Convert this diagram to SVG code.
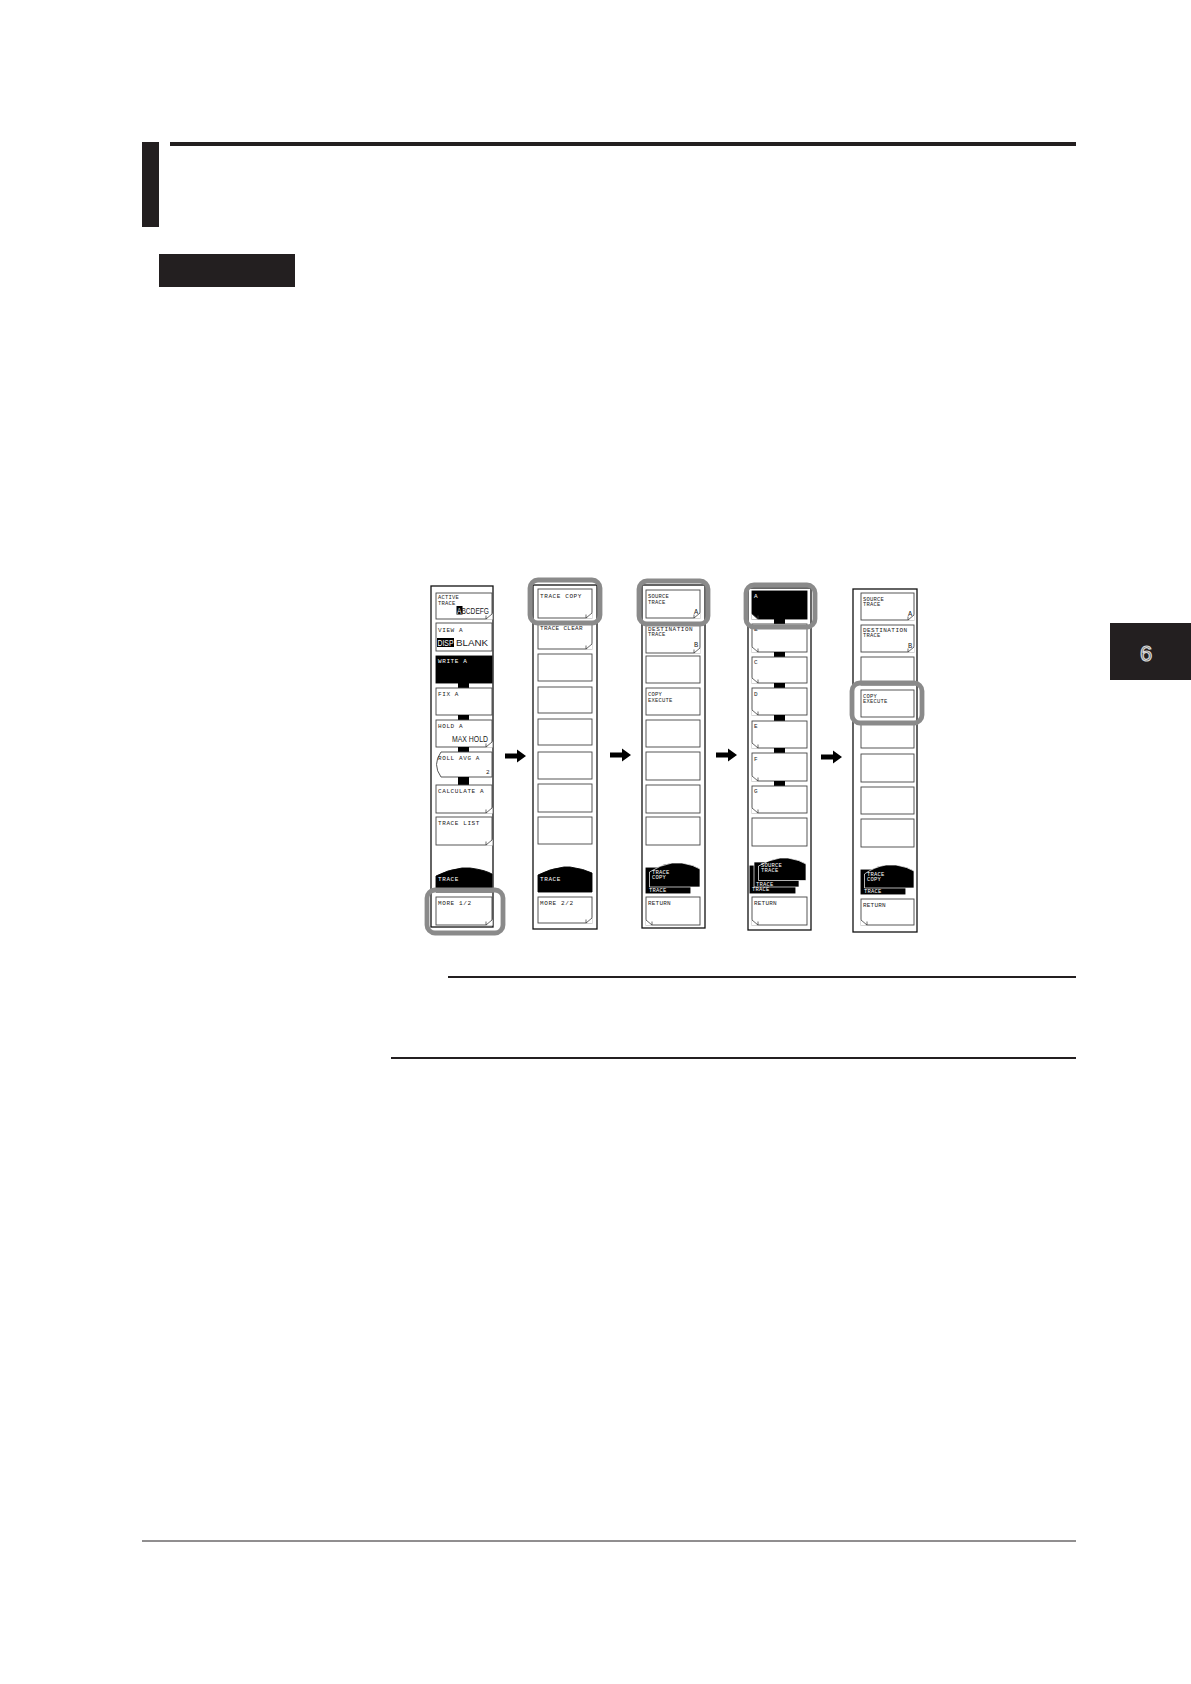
<svg xmlns="http://www.w3.org/2000/svg" xmlns:xlink="http://www.w3.org/1999/xlink" width="1191" height="1684" viewBox="0 0 1191 1684">
<style>
.ob{fill:none;stroke:#111;stroke-width:1.3}
.bt{fill:#fff;stroke:#444;stroke-width:0.9}
.bk{fill:#000;stroke:#000;stroke-width:0.9}
.hl{fill:none;stroke:#8a8a8a;stroke-width:4.8}
.t{font-family:"Liberation Mono","DejaVu Sans Mono",monospace;font-size:6px;fill:#222;letter-spacing:0.6px}
.tw{font-family:"Liberation Mono","DejaVu Sans Mono",monospace;font-size:6px;fill:#fff;letter-spacing:0.6px}
.tb{font-family:"Liberation Sans",Arial,sans-serif;font-size:8.5px;fill:#222}
.cn{fill:#000}
.ar{fill:#000}
.ink{fill:#231f20}
</style>
<defs>
<g id="foldR"><path d="M-6,0.6 L0.6,-5.5 L0.6,0.6 Z" fill="#fff"/><path d="M-6,0 L0,-5 M-6,0 V-3.5" fill="none" stroke="#444" stroke-width="0.8"/></g>
<g id="foldL"><path d="M6,0.6 L-0.6,-5.5 L-0.6,0.6 Z" fill="#fff"/><path d="M6,0 L0,-5 M6,0 V-3.5" fill="none" stroke="#444" stroke-width="0.8"/></g>
<path id="arrow" d="M-11,-2.6 H1 V-6.5 L10,0 L1,6.5 V2.6 H-11 Z"/>
</defs>
<rect width="1191" height="1684" fill="#fff"/>

<g id="page">
<rect class="ink" x="142" y="142" width="17" height="85"/>
<rect class="ink" x="170" y="142" width="906" height="4"/>
<rect class="ink" x="159" y="254" width="136" height="33"/>
<line x1="448" y1="977" x2="1076" y2="977" stroke="#231f20" stroke-width="2"/>
<line x1="391" y1="1058" x2="1076" y2="1058" stroke="#231f20" stroke-width="2"/>
<line x1="142" y1="1541" x2="1076" y2="1541" stroke="#231f20" stroke-width="1"/>
<rect class="ink" x="1110" y="623" width="81" height="57"/>
<text x="1146" y="661" font-family="Liberation Sans, Arial, sans-serif" font-size="22" fill="#4a4a4a" stroke="#d8d8d8" stroke-width="1.2" text-anchor="middle">6</text>
</g>

<g id="menu1">
<rect class="ob" x="431" y="586" width="62" height="341"/>
<rect class="bt" x="436" y="593" width="56" height="26"/>
<use xlink:href="#foldR" x="492" y="619"/>
<text class="t" x="438" y="599" style="letter-spacing:0.2px;font-size:5.5px">ACTIVE</text>
<text class="t" x="438" y="604.5" style="letter-spacing:0.2px;font-size:5.5px">TRACE</text>
<rect x="456.5" y="606" width="6" height="8.5" fill="#000"/>
<text class="tb" x="457" y="613.5" textLength="32" lengthAdjust="spacingAndGlyphs"><tspan fill="#fff">A</tspan>BCDEFG</text>
<rect class="bt" x="436" y="623" width="56" height="28"/>
<text class="t" x="438" y="632">VIEW A</text>
<rect x="437" y="638" width="17" height="9" fill="#000"/>
<text class="tb" x="437.5" y="646" style="fill:#fff" textLength="16" lengthAdjust="spacingAndGlyphs">DISP</text>
<text class="tb" x="456" y="646" textLength="32" lengthAdjust="spacingAndGlyphs">BLANK</text>
<rect class="bk" x="436" y="656" width="56" height="27"/>
<text class="tw" x="438" y="663">WRITE A</text>
<rect class="cn" x="458" y="683" width="11" height="5"/>
<rect class="bt" x="436" y="688" width="56" height="27"/>
<text class="t" x="438" y="695.5">FIX A</text>
<rect class="cn" x="458" y="715" width="11" height="5"/>
<rect class="bt" x="436" y="720" width="56" height="27"/>
<use xlink:href="#foldR" x="492" y="747"/>
<text class="t" x="438" y="727.5">HOLD A</text>
<text class="tb" x="452" y="742" textLength="36" lengthAdjust="spacingAndGlyphs">MAX HOLD</text>
<rect class="cn" x="458" y="747" width="11" height="5"/>
<path class="bt" d="M441,752 H492 V777 H441 Q432,764.5 441,752 Z"/>
<text class="t" x="438" y="759.5">ROLL AVG A</text>
<text class="t" x="486" y="774">2</text>
<rect class="cn" x="458" y="777" width="11" height="8"/>
<rect class="bt" x="436" y="785" width="56" height="28"/>
<use xlink:href="#foldR" x="492" y="813"/>
<text class="t" x="438" y="792.5">CALCULATE A</text>
<rect class="bt" x="436" y="817" width="56" height="28"/>
<use xlink:href="#foldR" x="492" y="845"/>
<text class="t" x="438" y="824.5">TRACE LIST</text>
<path class="bk" d="M436,892 V876 Q447,870 462,868 L470,868 Q485,870 492,874 V892 Z"/>
<text class="tw" x="438" y="880.5">TRACE</text>
<rect class="bt" x="436" y="897" width="56" height="28"/>
<use xlink:href="#foldR" x="492" y="925"/>
<text class="t" x="438" y="904.5">MORE 1/2</text>
<rect class="hl" x="427" y="890" width="76" height="43" rx="8"/>
</g>

<g id="menu2">
<rect class="ob" x="533" y="585" width="64" height="344"/>
<rect class="bt" x="538" y="589" width="54" height="29"/>
<use xlink:href="#foldR" x="592" y="618"/>
<text class="t" x="540" y="597.5">TRACE COPY</text>
<rect class="bt" x="538" y="623" width="54" height="26"/>
<use xlink:href="#foldR" x="592" y="649"/>
<text class="t" x="540" y="630" style="letter-spacing:0.3px">TRACE CLEAR</text>
<rect class="bt" x="538" y="654" width="54" height="27"/>
<rect class="bt" x="538" y="687" width="54" height="26"/>
<rect class="bt" x="538" y="719" width="54" height="26"/>
<rect class="bt" x="538" y="752" width="54" height="27"/>
<rect class="bt" x="538" y="784" width="54" height="28"/>
<rect class="bt" x="538" y="817" width="54" height="27"/>
<path class="bk" d="M538,892 V875 Q549,869 564,867 L570,867 Q584,869 592,873 V892 Z"/>
<text class="tw" x="540" y="880.5">TRACE</text>
<rect class="bt" x="538" y="897" width="54" height="26"/>
<use xlink:href="#foldR" x="592" y="923"/>
<text class="t" x="540" y="904.5">MORE 2/2</text>
<rect class="hl" x="530" y="580" width="70" height="43" rx="8"/>
</g>

<g id="menu3">
<rect class="ob" x="642" y="585" width="63" height="343"/>
<rect class="bt" x="646" y="590" width="54" height="28"/>
<use xlink:href="#foldR" x="700" y="618"/>
<text class="t" x="648" y="598" style="letter-spacing:0.2px;font-size:5.5px">SOURCE</text>
<text class="t" x="648" y="603.5" style="letter-spacing:0.2px;font-size:5.5px">TRACE</text>
<text class="t" x="694" y="613.5" style="font-size:7px">A</text>
<rect class="bt" x="646" y="624" width="54" height="29"/>
<use xlink:href="#foldR" x="700" y="653"/>
<text class="t" x="648" y="630.5" style="letter-spacing:0.5px">DESTINATION</text>
<text class="t" x="648" y="636" style="letter-spacing:0.2px;font-size:5.5px">TRACE</text>
<text class="t" x="694" y="646.5" style="font-size:7px">B</text>
<rect class="bt" x="646" y="656" width="54" height="27"/>
<rect class="bt" x="646" y="688" width="54" height="27"/>
<text class="t" x="648" y="696" style="letter-spacing:0.2px;font-size:5.5px">COPY</text>
<text class="t" x="648" y="701.5" style="letter-spacing:0.2px;font-size:5.5px">EXECUTE</text>
<rect class="bt" x="646" y="720" width="54" height="27"/>
<rect class="bt" x="646" y="752" width="54" height="28"/>
<rect class="bt" x="646" y="785" width="54" height="28"/>
<rect class="bt" x="646" y="817" width="54" height="28"/>
<rect class="bk" x="646" y="868" width="44" height="25"/>
<path d="M649.5,887 V872 Q660,865 672,863 L682,863 Q694,865 700,869 V887 Z" fill="#000" stroke="#fff" stroke-width="0.7"/>
<text class="tw" x="652" y="873.5" style="letter-spacing:0.2px;font-size:5.5px">TRACE</text>
<text class="tw" x="652" y="878.5" style="letter-spacing:0.2px;font-size:5.5px">COPY</text>
<text class="tw" x="649" y="892" style="letter-spacing:0.2px;font-size:5.5px">TRACE</text>
<rect class="bt" x="646" y="897" width="54" height="28"/>
<use xlink:href="#foldL" x="646" y="925"/>
<text class="t" x="648" y="904.5" style="letter-spacing:0.2px">RETURN</text>
<rect class="hl" x="639" y="581" width="69" height="43" rx="8"/>
</g>

<g id="menu4">
<rect class="ob" x="748" y="588" width="63" height="342"/>
<rect class="bk" x="752" y="591" width="55" height="28"/>
<text class="tw" x="754" y="598">A</text>
<use xlink:href="#foldL" x="752" y="619"/>
<rect class="cn" x="774" y="619" width="11" height="5"/>
<rect class="bt" x="752" y="624" width="55" height="28"/>
<use xlink:href="#foldL" x="752" y="652"/>
<text class="t" x="754" y="631">B</text>
<rect class="cn" x="774" y="652" width="11" height="5"/>
<rect class="bt" x="752" y="657" width="55" height="26"/>
<use xlink:href="#foldL" x="752" y="683"/>
<text class="t" x="754" y="664">C</text>
<rect class="cn" x="774" y="683" width="11" height="5"/>
<rect class="bt" x="752" y="688" width="55" height="27"/>
<use xlink:href="#foldL" x="752" y="715"/>
<text class="t" x="754" y="695.5">D</text>
<rect class="cn" x="774" y="715" width="11" height="6"/>
<rect class="bt" x="752" y="721" width="55" height="27"/>
<use xlink:href="#foldL" x="752" y="748"/>
<text class="t" x="754" y="728">E</text>
<rect class="cn" x="774" y="748" width="11" height="5"/>
<rect class="bt" x="752" y="753" width="55" height="28"/>
<use xlink:href="#foldL" x="752" y="781"/>
<text class="t" x="754" y="760.5">F</text>
<rect class="cn" x="774" y="781" width="11" height="5"/>
<rect class="bt" x="752" y="786" width="55" height="27"/>
<use xlink:href="#foldL" x="752" y="813"/>
<text class="t" x="754" y="793">G</text>
<rect class="bt" x="752" y="818" width="55" height="28"/>
<rect class="bk" x="750" y="866" width="45" height="27"/>
<rect x="754" y="862" width="45" height="25" fill="#000" stroke="#fff" stroke-width="0.7"/>
<path d="M758.5,880.5 V866 Q768,860 780,858 L788,858 Q800,860 806,864 V880.5 Z" fill="#000" stroke="#fff" stroke-width="0.7"/>
<text class="tw" x="761" y="866.5" style="letter-spacing:0.2px;font-size:5.5px">SOURCE</text>
<text class="tw" x="761" y="872" style="letter-spacing:0.2px;font-size:5.5px">TRACE</text>
<text class="tw" x="756" y="885.5" style="letter-spacing:0.2px;font-size:5.5px">TRACE</text>
<text class="tw" x="752" y="891" style="letter-spacing:0.2px;font-size:5.5px">TRACE</text>
<rect class="bt" x="752" y="897" width="55" height="28"/>
<use xlink:href="#foldL" x="752" y="925"/>
<text class="t" x="754" y="904.5" style="letter-spacing:0.2px">RETURN</text>
<rect class="hl" x="746" y="585" width="69" height="42" rx="8"/>
</g>

<g id="menu5">
<rect class="ob" x="853" y="589" width="64" height="343"/>
<rect class="bt" x="861" y="593" width="53" height="27"/>
<use xlink:href="#foldR" x="914" y="620"/>
<text class="t" x="863" y="600.5" style="letter-spacing:0.2px;font-size:5.5px">SOURCE</text>
<text class="t" x="863" y="606" style="letter-spacing:0.2px;font-size:5.5px">TRACE</text>
<text class="t" x="908" y="615.5" style="font-size:7px">A</text>
<rect class="bt" x="861" y="625" width="53" height="27"/>
<use xlink:href="#foldR" x="914" y="652"/>
<text class="t" x="863" y="631.5" style="letter-spacing:0.45px">DESTINATION</text>
<text class="t" x="863" y="637" style="letter-spacing:0.2px;font-size:5.5px">TRACE</text>
<text class="t" x="908" y="647.5" style="font-size:7px">B</text>
<rect class="bt" x="861" y="657" width="53" height="28"/>
<rect class="bt" x="861" y="690" width="53" height="27"/>
<text class="t" x="863" y="697.5" style="letter-spacing:0.2px;font-size:5.5px">COPY</text>
<text class="t" x="863" y="703" style="letter-spacing:0.2px;font-size:5.5px">EXECUTE</text>
<rect class="bt" x="861" y="722" width="53" height="26"/>
<rect class="bt" x="861" y="754" width="53" height="28"/>
<rect class="bt" x="861" y="787" width="53" height="27"/>
<rect class="bt" x="861" y="819" width="53" height="28"/>
<rect class="bk" x="861" y="870" width="44" height="24"/>
<path d="M864.5,888 V874 Q874,867 886,865 L896,865 Q908,867 914,871 V888 Z" fill="#000" stroke="#fff" stroke-width="0.7"/>
<text class="tw" x="867" y="875.5" style="letter-spacing:0.2px;font-size:5.5px">TRACE</text>
<text class="tw" x="867" y="880.5" style="letter-spacing:0.2px;font-size:5.5px">COPY</text>
<text class="tw" x="864" y="893" style="letter-spacing:0.2px;font-size:5.5px">TRACE</text>
<rect class="bt" x="861" y="899" width="53" height="26"/>
<use xlink:href="#foldL" x="861" y="925"/>
<text class="t" x="863" y="906.5" style="letter-spacing:0.2px">RETURN</text>
<rect class="hl" x="852" y="683" width="70" height="40" rx="8"/>
</g>

<g id="connectors">
<use xlink:href="#arrow" class="ar" x="516" y="756"/>
<use xlink:href="#arrow" class="ar" x="621" y="755"/>
<use xlink:href="#arrow" class="ar" x="727" y="755"/>
<use xlink:href="#arrow" class="ar" x="832" y="757"/>
</g>
</svg>
